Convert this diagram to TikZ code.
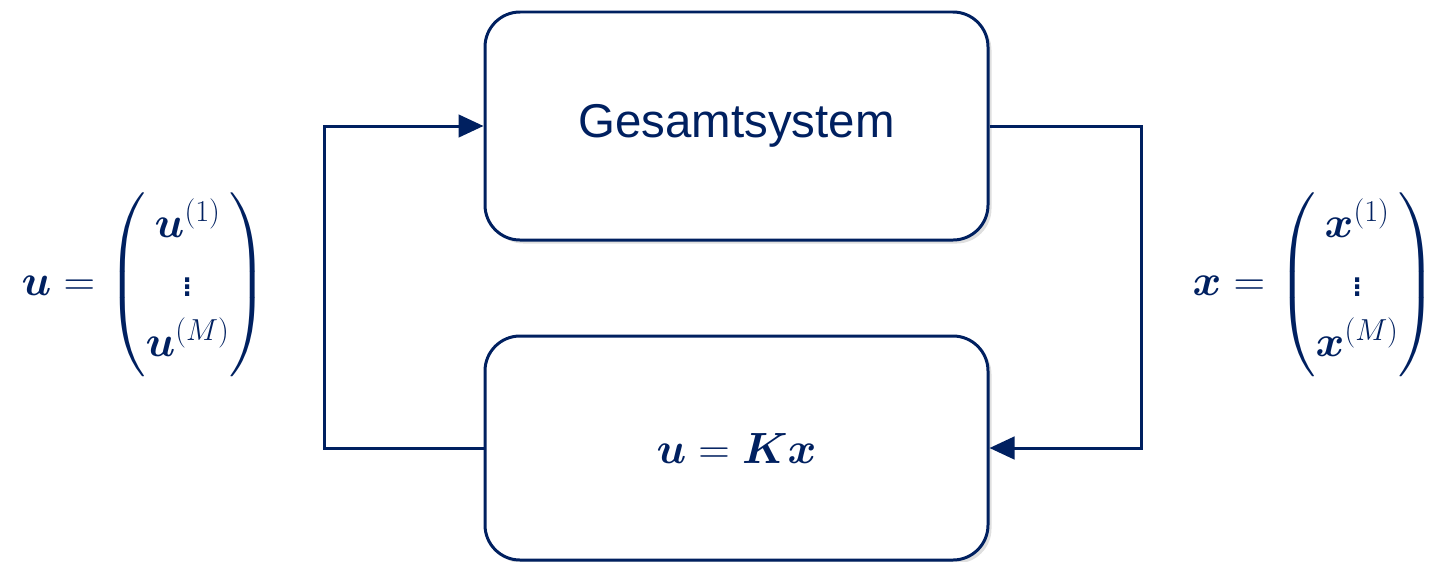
\documentclass[tikz,border=0pt]{standalone}
\usepackage{amsmath, amssymb, bm}
\usepackage{fontspec}
\setmainfont{Liberation Sans}
\usepackage{tikz}
\usetikzlibrary{arrows.meta, positioning, shadows}
\usepackage{xcolor}
\definecolor{navy}{HTML}{002060}

\begin{document}
\begin{tikzpicture}[
    sysbox/.style={draw=navy, fill=white, rounded corners=0.7cm, line width=1.7pt,
        minimum width=10.06cm, minimum height=4.56cm, text=navy,
        drop shadow={shadow xshift=2pt, shadow yshift=-2pt, opacity=0.25, fill=gray}},
    flow/.style={draw=navy, line width=1.7pt, -{Triangle[length=0.5cm, width=0.45cm]}}
]
    \useasboundingbox (0,0) rectangle (28.64,-11.22);

    % boxes
    \node[sysbox] (plant) at (14.73,-2.52) {\fontsize{27}{32}\selectfont Gesamtsystem};
    \node[sysbox, minimum height=4.48cm] (ctrl) at (14.73,-8.96)
        {\fontsize{23}{33}\selectfont $\bm{u}=\bm{K}\bm{x}$};

    % feedback loop
    \draw[flow] (ctrl.west) -- ++(-3.18,0) |- (plant.west);
    \draw[flow] (plant.east) -- ++(3.04,0) |- (ctrl.east);

    % vectors
    \node[text=navy] (uvec) at (2.9,-5.7) {\fontsize{25}{34}\selectfont
        $\bm{u}=\begin{pmatrix}\bm{u}^{(1)}\\ \vdots\\ \bm{u}^{(M)}\end{pmatrix}$};
    \node[text=navy] (xvec) at (26.3,-5.7) {\fontsize{25}{34}\selectfont
        $\bm{x}=\begin{pmatrix}\bm{x}^{(1)}\\ \vdots\\ \bm{x}^{(M)}\end{pmatrix}$};
\end{tikzpicture}
\end{document}
